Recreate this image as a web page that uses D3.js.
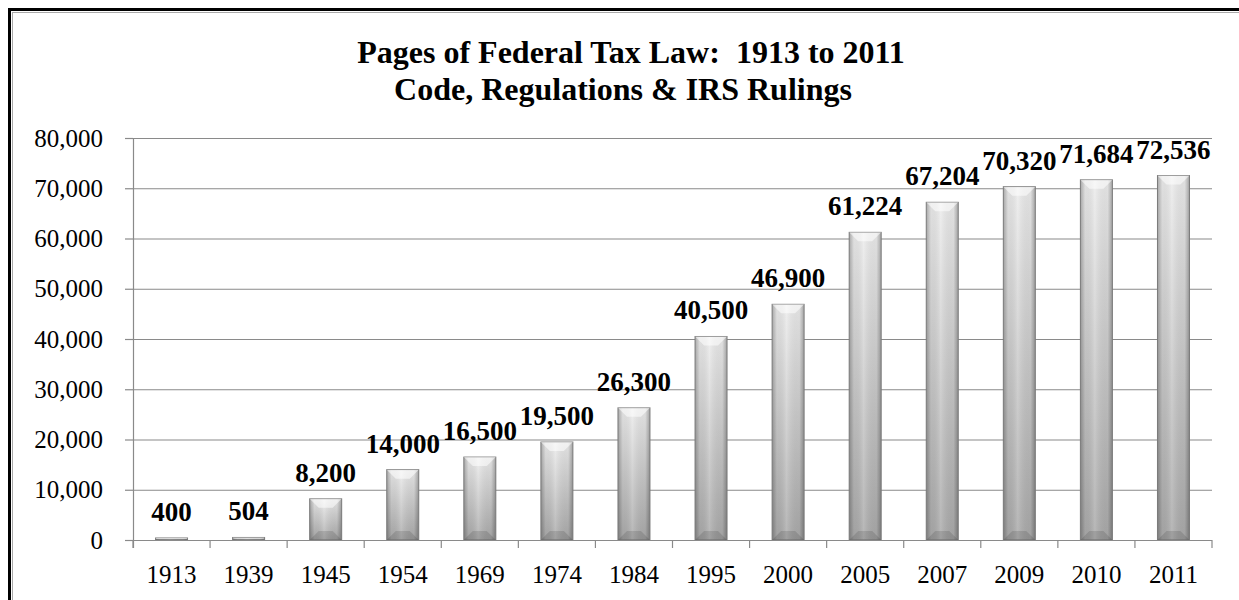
<!DOCTYPE html>
<html>
<head>
<meta charset="utf-8">
<script src="https://cdn.jsdelivr.net/npm/d3@7"></script>
<style>
  body { margin: 0; background: #fff; }
  svg text { font-family: "Liberation Serif", "Times New Roman", serif; }
</style>
</head>
<body>
<svg width="1239" height="600"></svg>
<script>
// data
var years = ['1913', '1939', '1945', '1954', '1969', '1974', '1984', '1995', '2000', '2005', '2007', '2009', '2010', '2011'];
var pages = [400, 504, 8200, 14000, 16500, 19500, 26300, 40500, 46900, 61224, 67204, 70320, 71684, 72536];
var yTicks = [0, 10000, 20000, 30000, 40000, 50000, 60000, 70000, 80000];
var titleLines = ['Pages of Federal Tax Law:  1913 to 2011', 'Code, Regulations & IRS Rulings'];

var svg = d3.select('svg');
var fmt = d3.format(',');

// plot box
var plotLeft = 133, plotRight = 1212, plotTop = 138, plotBottom = 540;

var x = d3.scaleBand()
    .domain(years)
    .range([plotLeft, plotRight])
    .paddingInner(0.585)
    .paddingOuter(0.2925);

var y = d3.scaleLinear()
    .domain([0, 80000])
    .range([plotBottom, plotTop]);

// frame (only top and left edges show in the picture)
svg.append('rect')
    .attr('x', 9.5).attr('y', 9.5)
    .attr('width', 1260).attr('height', 620)
    .style('fill', 'none')
    .style('stroke', '#000')
    .style('stroke-width', 3)
svg.append('rect')
    .attr('x', 12.5).attr('y', 12.5)
    .attr('width', 1260).attr('height', 620)
    .style('fill', 'none')
    .style('stroke', '#aaa')
    .style('stroke-width', 1)

// gradients for the bevelled bars
var defs = svg.append('defs');
var vg = defs.append('linearGradient').attr('id', 'barV')
    .attr('x1', 0).attr('y1', 0).attr('x2', 0).attr('y2', 1);
vg.append('stop').attr('offset', '0%').attr('stop-color', '#ececec');
vg.append('stop').attr('offset', '100%').attr('stop-color', '#aaaaaa');

var hg = defs.append('linearGradient').attr('id', 'barH')
    .attr('x1', 0).attr('y1', 0).attr('x2', 1).attr('y2', 0);
hg.append('stop').attr('offset', '0%').attr('stop-color', '#000').attr('stop-opacity', 0.28);
hg.append('stop').attr('offset', '15%').attr('stop-color', '#000').attr('stop-opacity', 0.05);
hg.append('stop').attr('offset', '45%').attr('stop-color', '#fff').attr('stop-opacity', 0.15);
hg.append('stop').attr('offset', '85%').attr('stop-color', '#000').attr('stop-opacity', 0.05);
hg.append('stop').attr('offset', '100%').attr('stop-color', '#000').attr('stop-opacity', 0.3);

// gridlines + y ticks
svg.append('g')
    .attr('transform', 'translate(' + plotLeft + ',0)')
    .call(d3.axisLeft(y).tickValues(yTicks).tickSize(-(plotRight - plotLeft)).tickSizeOuter(0).tickFormat(''))
    .call(function (g) {
        g.select('.domain').remove();
        g.selectAll('.tick line').style('stroke', '#8a8a8a').style('stroke-width', 1.2);
    });
svg.append('g')
    .attr('transform', 'translate(' + plotLeft + ',0)')
    .call(d3.axisLeft(y).tickValues(yTicks).tickSize(8).tickFormat(''))
    .call(function (g) {
        g.select('.domain').remove();
        g.selectAll('.tick line').style('stroke', '#8a8a8a').style('stroke-width', 1.2);
    });

svg.append('g').selectAll('text')
    .data(yTicks)
    .enter().append('text')
    .attr('x', 103)
    .attr('y', function (d) { return y(d); })
    .attr('dy', '0.34em')
    .attr('text-anchor', 'end')
    .style('font-size', '25px')
    .text(fmt)

// y axis line
svg.append('line')
    .attr('x1', plotLeft + 0.5).attr('x2', plotLeft + 0.5)
    .attr('y1', plotTop).attr('y2', plotBottom + 8)
    .style('stroke', '#8a8a8a').style('stroke-width', 1.2)

// bars
var bars = svg.append('g').selectAll('g')
    .data(pages)
    .enter().append('g');

bars.append('rect')
    .attr('x', function (d, i) { return x(years[i]); })
    .attr('y', function (d) { return y(d); })
    .attr('width', x.bandwidth())
    .attr('height', function (d) { return plotBottom - y(d); })
    .style('fill', 'url(#barV)')

bars.append('rect')
    .attr('x', function (d, i) { return x(years[i]); })
    .attr('y', function (d) { return y(d); })
    .attr('width', x.bandwidth())
    .attr('height', function (d) { return plotBottom - y(d); })
    .style('fill', 'url(#barH)')
    .style('stroke', '#7a7a7a')
    .style('stroke-width', 1)

// top bevel highlight
bars.append('path')
    .attr('d', function (d, i) {
        var x0 = x(years[i]), w = x.bandwidth(), y0 = y(d);
        var b = Math.min(9, (plotBottom - y0) / 2);
        return 'M' + x0 + ',' + y0 + 'L' + (x0 + w) + ',' + y0 +
            'L' + (x0 + w - b) + ',' + (y0 + b) + 'L' + (x0 + b) + ',' + (y0 + b) + 'Z';
    })
    .style('fill', '#fff')
    .style('fill-opacity', 0.55)

// bottom bevel shade
bars.append('path')
    .attr('d', function (d, i) {
        var x0 = x(years[i]), w = x.bandwidth(), y0 = y(d);
        var b = Math.min(9, (plotBottom - y0) / 2);
        return 'M' + x0 + ',' + plotBottom + 'L' + (x0 + w) + ',' + plotBottom +
            'L' + (x0 + w - b) + ',' + (plotBottom - b) + 'L' + (x0 + b) + ',' + (plotBottom - b) + 'Z';
    })
    .style('fill', '#000')
    .style('fill-opacity', 0.12)

// x axis
svg.append('line')
    .attr('x1', plotLeft).attr('x2', plotRight)
    .attr('y1', plotBottom + 0.5).attr('y2', plotBottom + 0.5)
    .style('stroke', '#8a8a8a').style('stroke-width', 1.2)

svg.append('g').selectAll('line')
    .data(d3.range(years.length + 1))
    .enter().append('line')
    .attr('x1', function (i) { return plotLeft + i * x.step(); })
    .attr('x2', function (i) { return plotLeft + i * x.step(); })
    .attr('y1', plotBottom).attr('y2', plotBottom + 8)
    .style('stroke', '#8a8a8a').style('stroke-width', 1.2)

svg.append('g').selectAll('text')
    .data(years)
    .enter().append('text')
    .attr('x', function (d) { return x(d) + x.bandwidth() / 2; })
    .attr('y', 583)
    .attr('text-anchor', 'middle')
    .style('font-size', '25px')
    .text(function (d) { return d; })

// value labels
bars.append('text')
    .attr('x', function (d, i) { return x(years[i]) + x.bandwidth() / 2; })
    .attr('y', function (d) { return y(d) - 17; })
    .attr('text-anchor', 'middle')
    .style('font-size', '27px')
    .style('font-weight', 'bold')
    .text(fmt)

// title
svg.append('g').selectAll('text')
    .data(titleLines)
    .enter().append('text')
    .attr('x', function (d, i) { return i === 0 ? 631 : 623; })
    .attr('y', function (d, i) { return 63 + i * 37; })
    .attr('text-anchor', 'middle')
    .attr('xml:space', 'preserve')
    .style('white-space', 'pre')
    .style('font-size', '32px')
    .style('font-weight', 'bold')
    .text(function (d) { return d; })
</script>
</body>
</html>
